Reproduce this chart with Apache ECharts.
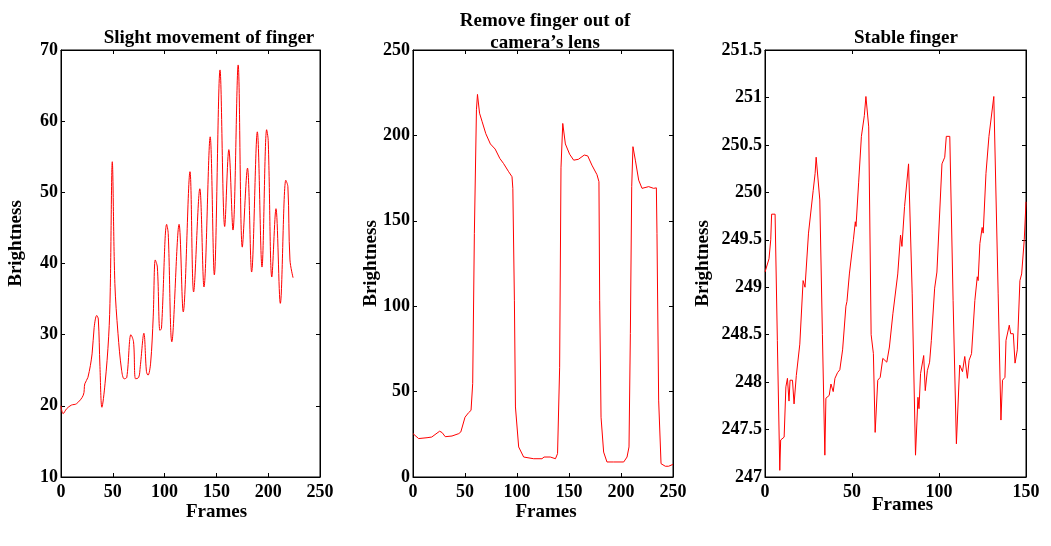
<!DOCTYPE html>
<html>
<head>
<meta charset="utf-8">
<script src="https://cdn.jsdelivr.net/npm/echarts@6/dist/echarts.min.js"></script>
<style>
  html, body { margin: 0; padding: 0; background: #fff; }
  #chart { width: 1051px; height: 546px; }
</style>
</head>
<body>
<div id="chart"></div>
<script>
// panel titles
var titles = ["Slight movement of finger", "Remove finger out of\ncamera\u2019s lens", "Stable finger"];

// panel 1: slight movement of finger  [frame, brightness]
var slightMovement = [
    [0, 20], [2, 18.9], [5.5, 19.6], [10, 20.1], [15, 20.3], [21.5, 21.5], [23, 23.1], [26, 24],
    [30, 27.3], [32, 31], [34.5, 32.7], [36, 32.2], [37.6, 25.5], [39.5, 19.8], [42.5, 23.1],
    [46, 29.7], [47.5, 36], [49.5, 54.3], [52, 37.2], [55, 30.2], [58.5, 25], [61, 23.8],
    [63.5, 24], [67.5, 30], [70, 29], [72, 23.8], [75, 24], [76.5, 25.5], [80, 30.2],
    [82.5, 24.8], [84, 24.3], [86.5, 26], [89, 32.5], [91, 40.5], [93, 39.5], [95.5, 30.6],
    [97, 30.9], [102, 45.5], [103.5, 44.2], [107, 29], [114, 45.5], [118, 33.2],
    [124.5, 52.9], [128, 36], [134, 50.5], [138, 36.7], [144, 57.8], [148, 38.4],
    [153.5, 67.2], [158, 45.2], [162, 56], [166, 44.7], [171, 67.9], [175, 42.3],
    [180, 53.4], [184, 38.8], [189.5, 58.5], [194, 39.5], [198.5, 58.8], [200, 57.3],
    [203.5, 38.1], [207.5, 47.7], [211.7, 34.4], [217, 51.7], [219, 50.8], [221, 40.5], [224, 38]
];

// panel 2: finger removed from the lens
var removeFinger = [
    [0, 25.4], [5.4, 22.5], [13.5, 23], [18, 23.4], [25.6, 26.8], [28, 26], [31, 23.6],
    [37.5, 24], [44, 25.4], [46, 26.4], [50, 35], [53.5, 37.7], [55.8, 39], [57.4, 54.7],
    [59, 142.6], [61, 215], [62, 224], [64, 213], [66.5, 208], [70, 201], [74.4, 195],
    [79, 192], [83.5, 186.5], [87, 183.6], [92, 178.7], [95.2, 175.8], [96, 169],
    [97.5, 103.5], [98.5, 41], [101.6, 17.6], [106.4, 11.7], [116, 10.7], [124, 10.7],
    [126, 11.7], [132, 11.7], [137, 10.7], [139, 13.7], [141, 64], [142.3, 181], [144, 207],
    [146.5, 195], [150.6, 189], [154.5, 185.5], [159, 186], [164.7, 188.5], [168, 188],
    [172, 182.6], [176.9, 177], [178.8, 172.9], [179.5, 103.5], [180.8, 35], [183.3, 14.6],
    [186.5, 8.8], [193, 8.8], [202.6, 8.8], [205.8, 11.7], [207.7, 17.6], [209, 84],
    [210.3, 170], [211.5, 193.4], [213.8, 185.5], [217, 173.8], [220.2, 169], [226.6, 170],
    [231.4, 169], [234, 169.3], [234.6, 142.6], [236.2, 45], [238.5, 7.8], [242.6, 6.3],
    [245.8, 6.3], [250, 7.4]
];

// panel 3: stable finger
var stableFinger = [
    [0, 249.16], [2.3, 249.3], [3.3, 249.5], [3.8, 249.77], [5.8, 249.77], [7.1, 248.44],
    [8.5, 247.07], [9, 247.39], [11, 247.42], [12, 247.95], [12.9, 248.04], [13.8, 247.8],
    [14.4, 248.02], [15.8, 248.02], [16.7, 247.77], [18, 248.07], [20, 248.4], [21.9, 249.07],
    [23, 249.0], [25, 249.57], [27.7, 250.02], [28.8, 250.2], [29.4, 250.37], [31.5, 249.92],
    [33, 248.5], [34.4, 247.23], [35, 247.83], [36.9, 247.86], [37.9, 247.98], [39.2, 247.9],
    [40.2, 248.04], [41.7, 248.1], [43, 248.13], [44.6, 248.34], [46.5, 248.8], [47.1, 248.85],
    [48.5, 249.14], [50.8, 249.5], [51.9, 249.69], [52.3, 249.64], [53.8, 250.1],
    [55.4, 250.59], [57.1, 250.81], [58, 251.01], [59.6, 250.69], [61, 248.5], [62.3, 248.3],
    [63.3, 247.47], [64.8, 248.02], [66.2, 248.05], [67.7, 248.25], [70, 248.21],
    [71.5, 248.37], [73.5, 248.72], [76.3, 249.14], [77.9, 249.55], [78.7, 249.43],
    [80.2, 249.85], [82.5, 250.3], [84.6, 248.93], [86.5, 247.23], [87.9, 247.84],
    [88.5, 247.72], [89.4, 248.09], [91.2, 248.28], [92.1, 247.91], [93.3, 248.12],
    [94.6, 248.21], [95.6, 248.44], [97.5, 248.99], [98.8, 249.16], [99.4, 249.14],
    [101.7, 250.3], [103.3, 250.37], [104.2, 250.59], [106.2, 250.59], [108.1, 248.86],
    [110, 247.35], [111.9, 248.18], [113.5, 248.11], [114.8, 248.27], [116.3, 248.04],
    [117.3, 248.23], [118.7, 248.3], [120.6, 248.86], [122, 249.11], [122.5, 249.07],
    [123.5, 249.46], [124.8, 249.63], [125.4, 249.57], [127, 250.2], [128.7, 250.59],
    [131.5, 251.01], [134, 248.93], [135.6, 247.6], [136.5, 248.02], [137.9, 248.05],
    [138.5, 248.44], [140.4, 248.6], [141.2, 248.51], [142.7, 248.51], [143.7, 248.2],
    [145, 248.34], [146.5, 249.07], [147.5, 249.14], [149, 249.5], [150, 249.9]
];

// axis ranges
var xRanges = [[0, 250, 50], [0, 250, 50], [0, 150, 50]];
var yRanges = [[10, 70, 10], [0, 250, 50], [247, 251.5, 0.5]];

var font = "'Liberation Serif', 'Times New Roman', serif";
var grids = [
    { left: 61, top: 50, width: 259, height: 427 },
    { left: 413, top: 50, width: 260, height: 427 },
    { left: 765, top: 50, width: 261, height: 427 }
];
var titlePos = [[204, 22], [540, 5], [901, 22]];
var yNameGap = [35, 32, 52];
var yNamePad = [[0, 0, 0, 40], [0, 0, 0, 0], [0, 0, 0, 0]];
var xNameGap = [26, 26, 19];
var xNamePad = [[0, 0, 0, 52], [0, 0, 0, 6], [0, 0, 0, 14]];
var seriesData = [slightMovement, removeFinger, stableFinger];

var option = {
    backgroundColor: '#fff',
    animation: false,
    title: [],
    grid: [],
    xAxis: [],
    yAxis: [],
    series: []
};

grids.forEach(function (g, i) {
    option.grid.push({
        left: g.left, top: g.top, width: g.width, height: g.height,
        show: true, borderColor: '#000', borderWidth: 1, backgroundColor: '#fff'
    });
    option.title.push({
        text: titles[i],
        left: titlePos[i][0],
        top: titlePos[i][1],
        textAlign: 'center',
        textStyle: { fontFamily: font, fontWeight: 'bold', fontSize: 19, color: '#000', lineHeight: 22 }
    });

    var tick = { show: true, inside: true, length: 4, lineStyle: { color: '#000' } };
    // bottom / left axes with labels
    option.xAxis.push({
        type: 'value', gridIndex: i, position: 'bottom',
        min: xRanges[i][0], max: xRanges[i][1], interval: xRanges[i][2],
        name: 'Frames', nameLocation: 'middle', nameGap: xNameGap[i], nameMoveOverlap: false,
        nameTextStyle: { fontFamily: font, fontWeight: 'bold', fontSize: 19, color: '#000', padding: xNamePad[i] },
        axisLine: { show: true, onZero: false, lineStyle: { color: '#000' } },
        axisTick: tick,
        axisLabel: { fontFamily: font, fontWeight: 'bold', fontSize: 18, color: '#000', margin: 6 },
        splitLine: { show: false }
    });
    option.yAxis.push({
        type: 'value', gridIndex: i, position: 'left',
        min: yRanges[i][0], max: yRanges[i][1], interval: yRanges[i][2],
        name: 'Brightness', nameLocation: 'middle', nameGap: yNameGap[i], nameMoveOverlap: false,
        nameTextStyle: { fontFamily: font, fontWeight: 'bold', fontSize: 19, color: '#000', padding: yNamePad[i] },
        axisLine: { show: true, onZero: false, lineStyle: { color: '#000' } },
        axisTick: tick,
        axisLabel: { fontFamily: font, fontWeight: 'bold', fontSize: 18, color: '#000', margin: 3 },
        splitLine: { show: false }
    });
    // mirrored ticks on top / right
    option.xAxis.push({
        type: 'value', gridIndex: i, position: 'top',
        min: xRanges[i][0], max: xRanges[i][1], interval: xRanges[i][2],
        axisLine: { show: true, onZero: false, lineStyle: { color: '#000' } },
        axisTick: tick, axisLabel: { show: false }, splitLine: { show: false }
    });
    option.yAxis.push({
        type: 'value', gridIndex: i, position: 'right',
        min: yRanges[i][0], max: yRanges[i][1], interval: yRanges[i][2],
        axisLine: { show: true, onZero: false, lineStyle: { color: '#000' } },
        axisTick: tick, axisLabel: { show: false }, splitLine: { show: false }
    });

    option.series.push({
        type: 'line',
        xAxisIndex: i * 2,
        yAxisIndex: i * 2,
        data: seriesData[i],
        smooth: i === 0 ? 0.35 : false,
        symbol: 'none',
        lineStyle: { color: '#ff0000', width: 1 }
    });
});

var myChart = echarts.init(document.getElementById('chart'));
myChart.setOption(option);
</script>
</body>
</html>
